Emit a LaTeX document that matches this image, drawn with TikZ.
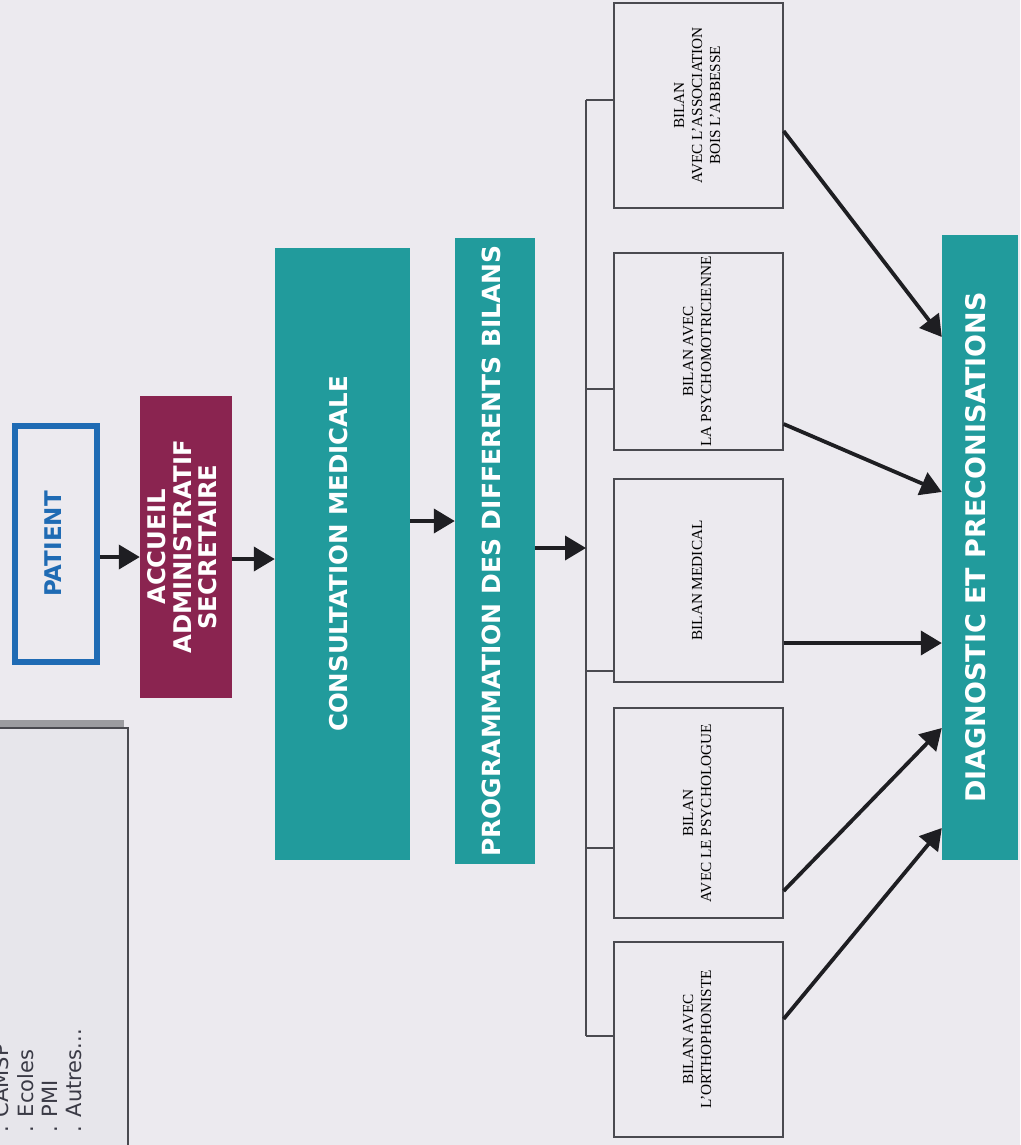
\documentclass[tikz,border=0pt]{standalone}
\usepackage{fontspec}
\setmainfont{Liberation Serif}
\newfontfamily\dvs{DejaVu Sans}
\usetikzlibrary{arrows.meta}
\definecolor{bg}{HTML}{ECEAEF}
\definecolor{teal1}{HTML}{219B9C}
\definecolor{maroon1}{HTML}{8A2450}
\definecolor{blue1}{HTML}{1F6BB4}
\definecolor{srcfill}{HTML}{E7E6EB}
\definecolor{shadowc}{HTML}{9C9CA0}
\definecolor{boxline}{HTML}{4A4A50}
\definecolor{ink}{HTML}{1E1E22}
\definecolor{srcink}{HTML}{3A3A45}
\newcommand{\vtxt}[1]{\rotatebox{90}{\begin{tabular}{@{}c@{}}#1\end{tabular}}}
\newcommand{\fsz}[2]{\fontsize{#1}{#2}\selectfont}
\begin{document}
\begin{tikzpicture}[x=1pt,y=-1pt,
  flowbox/.style={rectangle, inner sep=0pt, draw=none, text=white, font=\dvs\bfseries\fsz{24.5}{27}},
  bilanbox/.style={rectangle, draw=boxline, line width=1.2pt, inner sep=0pt, minimum width=169pt, font=\fsz{15.3}{18}},
  flow/.style={-{Triangle[length=21pt,width=24pt]}, line width=3.8pt, draw=ink},
  tick/.style={draw=boxline, line width=1.2pt},
  srctext/.style={rotate=90, anchor=base west, inner sep=0pt, text=srcink, font=\dvs\fsz{21}{24}}
]
\useasboundingbox (0,0) rectangle (1020,1145);
\fill[bg] (0,0) rectangle (1020,1145);

% source box (left)
\fill[shadowc] (-6,720) rectangle (124,1150);
\node[rectangle, fill=srcfill, inner sep=0pt, outer sep=0pt, minimum width=134pt, minimum height=422pt, anchor=north east] (src) at (128,728) {};
\draw[boxline, line width=1.2pt] (src.north west) -| (src.south east);
\node[srctext] (s1) at (9,1133) {. CAMSP};
\node[srctext] (s2) at (33,1133) {. Ecoles};
\node[srctext] (s3) at (57,1133) {. PMI};
\node[srctext] (s4) at (81,1133) {. Autres...};

% main flow
\node[flowbox, draw=blue1, line width=6pt, minimum width=82pt, minimum height=236pt, text=blue1, font=\dvs\bfseries\fsz{23}{26}] (patient) at (56,544) {\vtxt{PATIENT}};
\node[flowbox, fill=maroon1, minimum width=92pt, minimum height=302pt, font=\dvs\bfseries\fsz{24.3}{25.5}] (accueil) at (186,547) {\vtxt{ACCUEIL\\ADMINISTRATIF\\SECRETAIRE}};
\node[flowbox, fill=teal1, minimum width=135pt, minimum height=612pt] (consult) at (342.5,554) {\vtxt{CONSULTATION MEDICALE}};
\node[flowbox, fill=teal1, minimum width=80pt, minimum height=626pt, font=\dvs\bfseries\fsz{25}{27}] (prog) at (495,551) {\vtxt{PROGRAMMATION DES DIFFERENTS BILANS}};
\node[flowbox, fill=teal1, minimum width=76pt, minimum height=625pt, font=\dvs\bfseries\fsz{27}{29}] (diag) at (980,547.5) {\vtxt{DIAGNOSTIC ET PRECONISATIONS}};

% bilan boxes
\node[bilanbox, minimum height=205pt] (b1) at (698.5,105.5) {\vtxt{BILAN\\AVEC L'ASSOCIATION\\BOIS L'ABBESSE}};
\node[bilanbox, minimum height=197pt] (b2) at (698.5,351.5) {\vtxt{BILAN AVEC\\LA PSYCHOMOTRICIENNE}};
\node[bilanbox, minimum height=203pt] (b3) at (698.5,580.5) {\vtxt{BILAN MEDICAL}};
\node[bilanbox, minimum height=210pt] (b4) at (698.5,813) {\vtxt{BILAN\\AVEC LE PSYCHOLOGUE}};
\node[bilanbox, minimum height=195pt] (b5) at (698.5,1039.5) {\vtxt{BILAN AVEC\\L'ORTHOPHONISTE}};

% bracket
\coordinate (t1) at (586,100);
\coordinate (t2) at (586,389);
\coordinate (t3) at (586,671);
\coordinate (t4) at (586,848);
\coordinate (t5) at (586,1036);
\coordinate (bin) at (586,548);
\draw[tick] (t1) -- (t5);
\draw[tick] (t1) -- (t1 -| b1.west);
\draw[tick] (t2) -- (t2 -| b2.west);
\draw[tick] (t3) -- (t3 -| b3.west);
\draw[tick] (t4) -- (t4 -| b4.west);
\draw[tick] (t5) -- (t5 -| b5.west);

% arrows
\draw[flow] (patient.east |- 0,557) -- (accueil.west |- 0,557);
\draw[flow] (accueil.east |- 0,559) -- (consult.west |- 0,559);
\draw[flow] (consult.east |- 0,521) -- (prog.west |- 0,521);
\draw[flow] (prog.east |- bin) -- (bin);
\draw[flow] (b1.east |- 0,131) -- (diag.west |- 0,337);
\draw[flow] (b2.east |- 0,424) -- (diag.west |- 0,492);
\draw[flow] (b3.east |- 0,643) -- (diag.west |- 0,643);
\draw[flow] (b4.east |- 0,891) -- (diag.west |- 0,728);
\draw[flow] (b5.east |- 0,1019) -- (diag.west |- 0,828);
\end{tikzpicture}
\end{document}
